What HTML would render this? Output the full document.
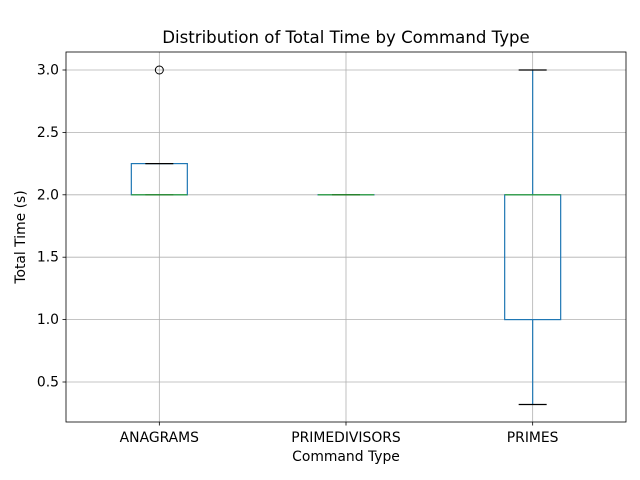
<!DOCTYPE html>
<html><head><meta charset="utf-8"><style>body{margin:0;background:#fff}svg{display:block;font-family:"DejaVu Sans","Liberation Sans",sans-serif}</style></head>
<body>
<svg id="chart" width="640" height="480">
<rect x="0" y="0" width="640" height="480" fill="#fff"/>
</svg>
<script>
const categories=["ANAGRAMS","PRIMEDIVISORS","PRIMES"];
const whiskerLow=[2.0,2.0,0.32];
const q1s=[2.0,2.0,1.0];
const medians=[2.0,2.0,2.0];
const q3s=[2.25,2.0,2.0];
const whiskerHigh=[2.25,2.0,3.0];
const outliers=[[3.0],[],[]];
const yTicks=[0.5,1.0,1.5,2.0,2.5,3.0];
const tickLabels=["0.5","1.0","1.5","2.0","2.5","3.0"];

const svg=document.getElementById('chart');
const NS='http://www.w3.org/2000/svg';
const L=66,R=626,T=52,B=422;
const y=v=>70+(3-v)*124.8;
const x=i=>L+(R-L)*(i+0.5)/categories.length;
function mk(tag,a,parent){const e=document.createElementNS(NS,tag);for(const k in a)e.setAttribute(k,a[k]);(parent||svg).appendChild(e);return e;}
yTicks.forEach((t,i)=>{
 const g=mk('line',{x1:L,x2:R,y1:y(t),y2:y(t),stroke:'#b0b0b0','stroke-width':0.8});
 
 
 mk('line',{x1:L-3.5,x2:L,y1:y(t),y2:y(t),stroke:'#000','stroke-width':0.8});
 const tx=mk('text',{x:L-7,y:y(t)+4.5,'text-anchor':'end','font-size':13.9});tx.textContent=tickLabels[i];
 
 
});
categories.forEach((c,i)=>{
 const g=mk('line',{x1:x(i),x2:x(i),y1:T,y2:B,stroke:'#b0b0b0','stroke-width':0.8});
 
 
 mk('line',{x1:x(i),x2:x(i),y1:B,y2:B+3.5,stroke:'#000','stroke-width':0.8});
 const tx=mk('text',{x:x(i),y:B+20,'text-anchor':'middle','font-size':13.9});tx.textContent=c;
 
 
});
const hw=28,cw=14;
categories.forEach((c,i)=>{
 const cx=x(i);
 const grp=mk('g',{});
 
 
 mk('line',{x1:cx,x2:cx,y1:y(q1s[i]),y2:y(whiskerLow[i]),stroke:'#1f77b4','stroke-width':1.2},grp);
 mk('line',{x1:cx,x2:cx,y1:y(q3s[i]),y2:y(whiskerHigh[i]),stroke:'#1f77b4','stroke-width':1.2},grp);
 mk('rect',{x:cx-hw,y:y(q3s[i]),width:2*hw,height:Math.max(0.01,y(q1s[i])-y(q3s[i])),fill:'none',stroke:'#1f77b4','stroke-width':1.2},grp);
 mk('line',{x1:cx-cw,x2:cx+cw,y1:y(whiskerLow[i]),y2:y(whiskerLow[i]),stroke:'#000','stroke-width':1.2},grp);
 mk('line',{x1:cx-cw,x2:cx+cw,y1:y(whiskerHigh[i]),y2:y(whiskerHigh[i]),stroke:'#000','stroke-width':1.2},grp);
 mk('line',{x1:cx-hw,x2:cx+hw,y1:y(medians[i]),y2:y(medians[i]),stroke:'#2ca02c','stroke-width':1.2},grp);
 outliers[i].forEach(o=>{
  const p=mk('circle',{cx:cx,cy:y(o),r:4,fill:'none',stroke:'#000','stroke-width':1},grp);
  
  
 });
});
mk('rect',{x:L,y:T,width:R-L,height:B-T,fill:'none',stroke:'#000','stroke-width':0.8});
</script>
<div style="position:absolute;left:0;top:0;width:640px;height:480px;pointer-events:none;font-family:'DejaVu Sans','Liberation Sans',sans-serif">
<div style="position:absolute;left:66px;width:560px;top:28px;text-align:center;font-size:16.6px;line-height:20px">Distribution of Total Time by Command Type</div>
<div style="position:absolute;left:66px;width:560px;top:448px;text-align:center;font-size:13.9px;line-height:18px">Command Type</div>
<div style="position:absolute;left:-39px;top:228px;width:120px;text-align:center;font-size:13.9px;line-height:18px;transform:rotate(-90deg)">Total Time (s)</div>
</div>
</body></html>
